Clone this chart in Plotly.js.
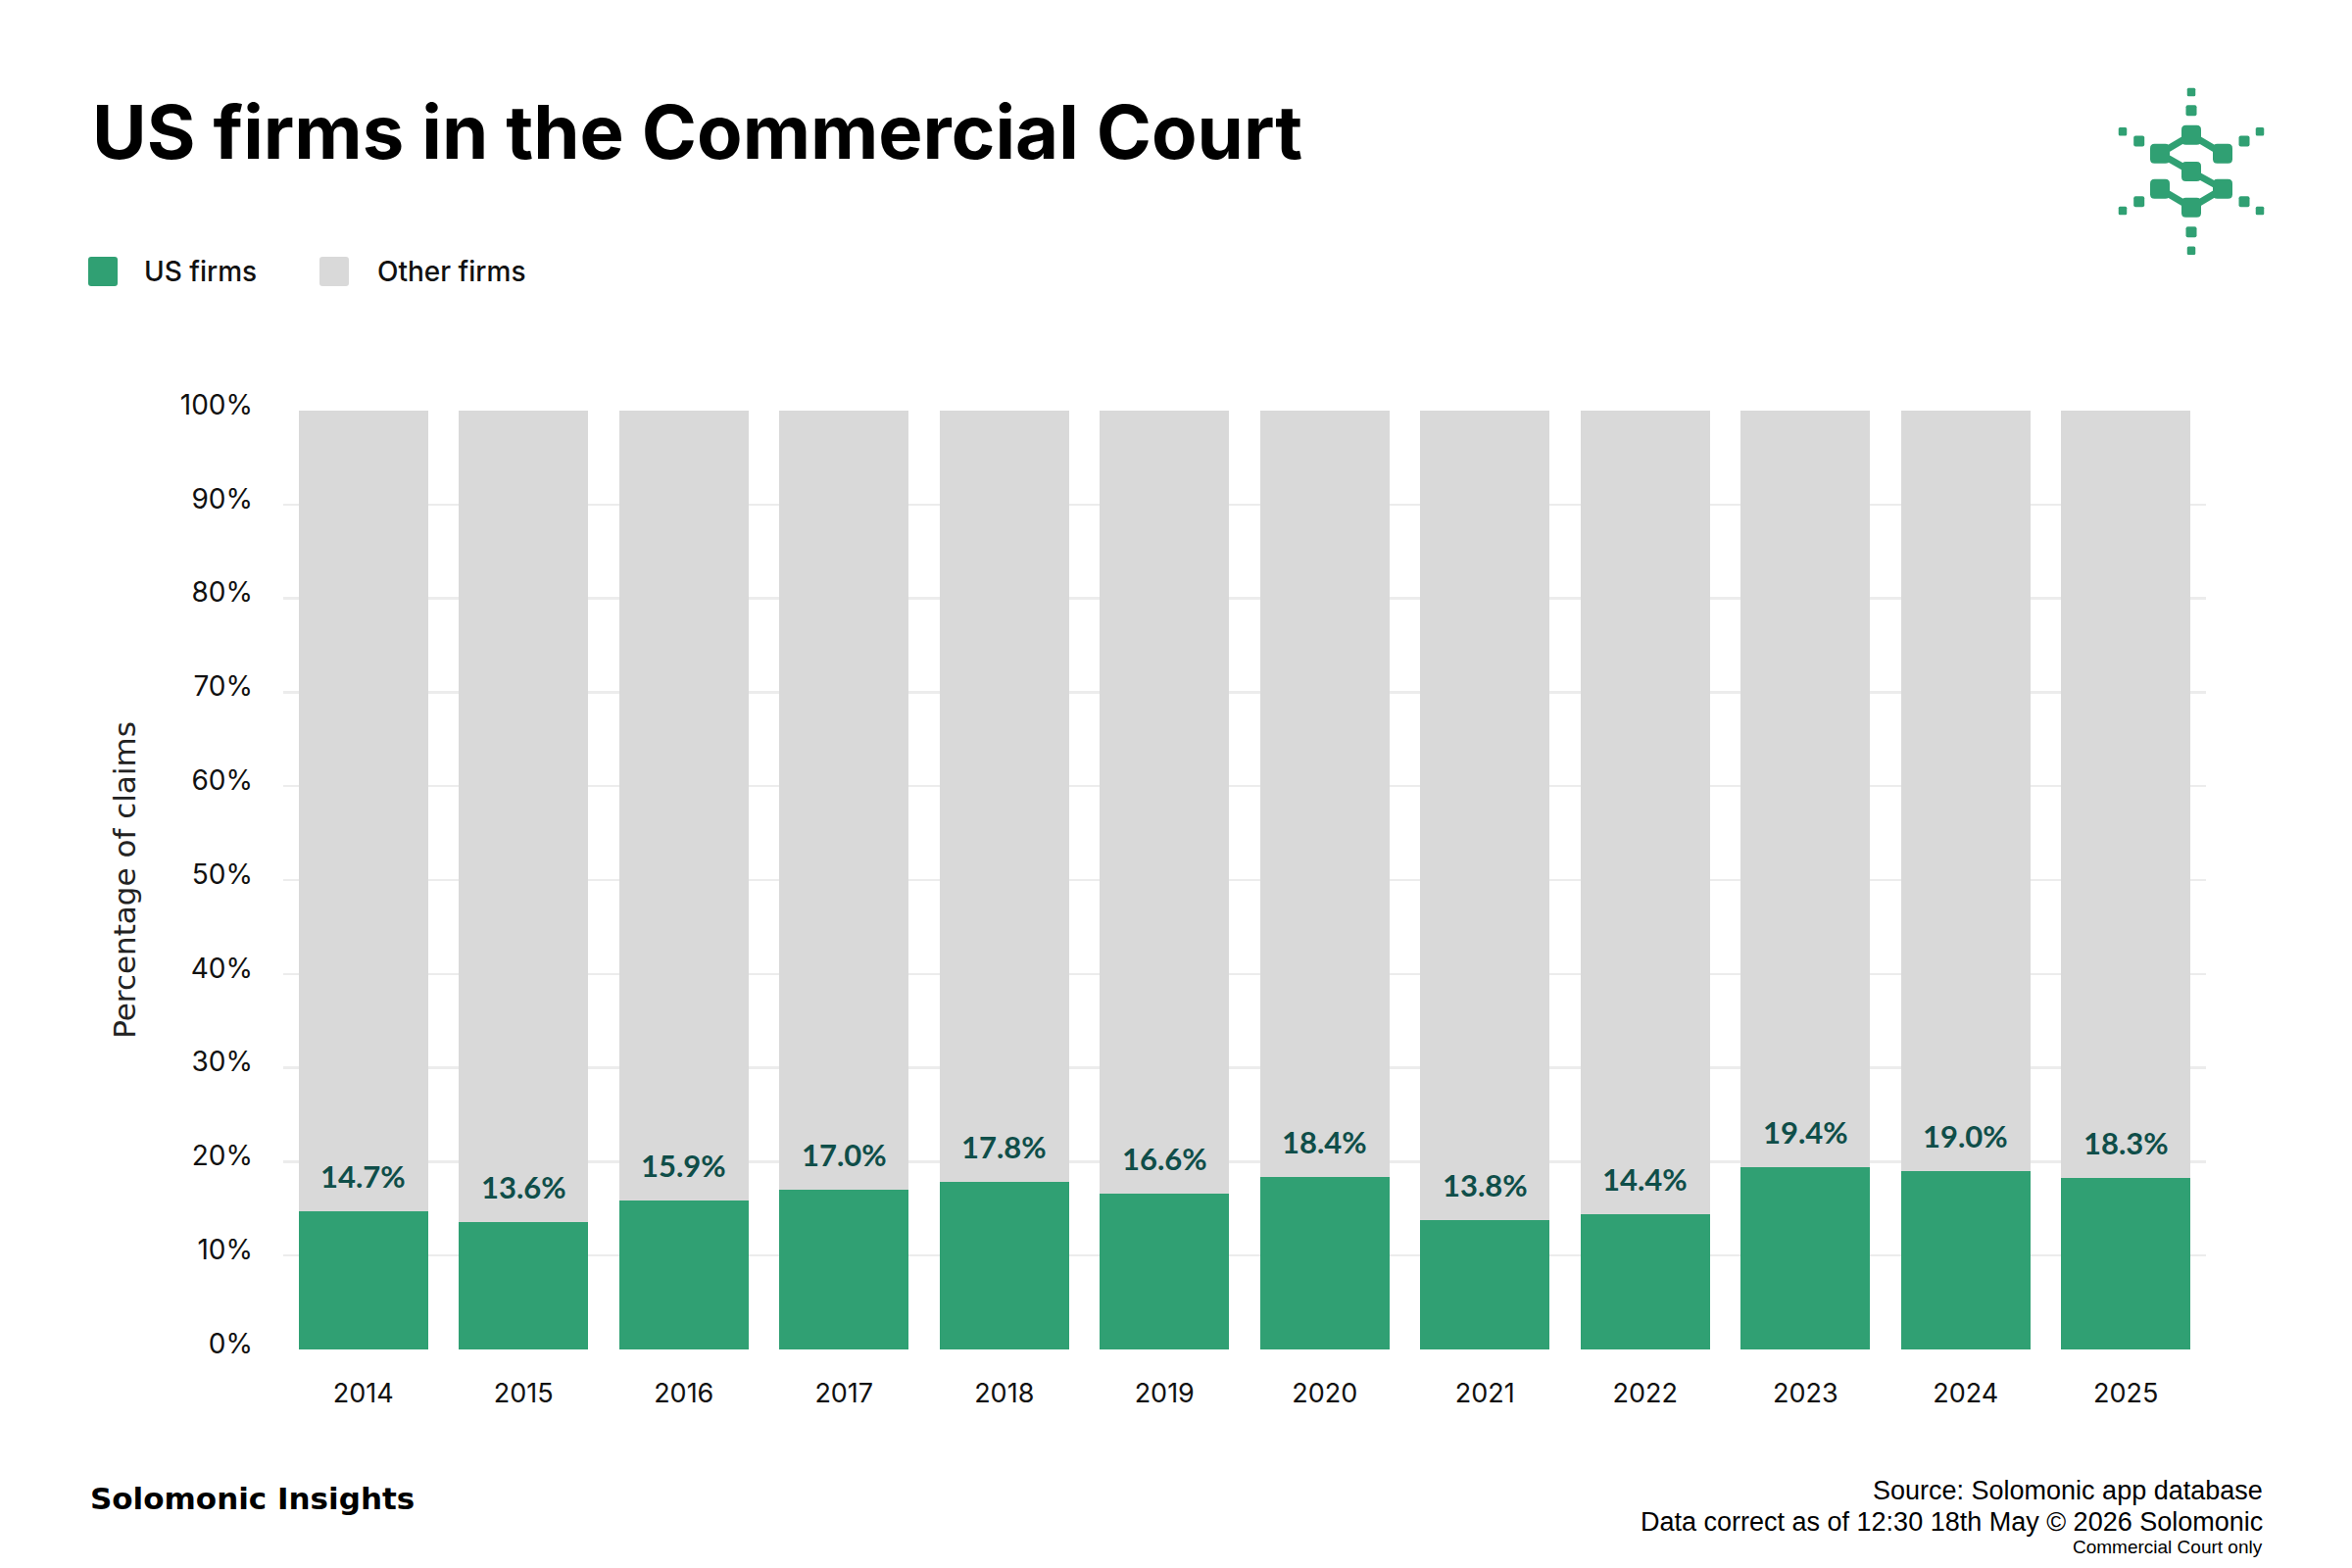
<!DOCTYPE html>
<html>
<head>
<meta charset="utf-8">
<script src="https://cdn.plot.ly/plotly-3.0.1.min.js"></script>
<style>
html,body{margin:0;padding:0;background:#ffffff;}
#chart{width:2400px;height:1600px;}
</style>
</head>
<body>
<div id="chart"></div>
<script>
// ---------- data ----------
const years = ['2014','2015','2016','2017','2018','2019','2020','2021','2022','2023','2024','2025'];
const usFirms = [14.7, 13.6, 15.9, 17.0, 17.8, 16.6, 18.4, 13.8, 14.4, 19.4, 19.0, 18.3];
const otherFirms = [85.3, 86.4, 84.1, 83.0, 82.2, 83.4, 81.6, 86.2, 85.6, 80.6, 81.0, 81.7];
const seriesNames = ['US firms', 'Other firms'];
const yTickVals = [0, 10, 20, 30, 40, 50, 60, 70, 80, 90, 100];
const yTickText = ['0%', '10%', '20%', '30%', '40%', '50%', '60%', '70%', '80%', '90%', '100%'];
const titleText = 'US firms in the Commercial Court';
const yTitleText = 'Percentage of claims';
const brandText = 'Solomonic Insights';
const sourceLines = ['Source: Solomonic app database', 'Data correct as of 12:30 18th May \u00a9 2026 Solomonic', 'Commercial Court only'];

// ---------- style ----------
const GREEN = '#30a073';
const GREY = '#d9d9d9';
const LABEL = '#0f4e49';
const W = 2400, H = 1600;
const M = {l: 289, r: 149, t: 419, b: 223};
const PW = W - M.l - M.r, PH = H - M.t - M.b;
const px = v => (v - M.l) / PW;          // page px -> paper x
const py = v => (H - M.b - v) / PH;      // page px -> paper y

function roundRect(cx, cy, w, h, r, color) {
  const x0 = cx - w / 2, x1 = cx + w / 2, y0 = cy - h / 2, y1 = cy + h / 2;
  const X = px, Y = py;
  const p = 'M' + X(x0 + r) + ',' + Y(y0) +
    ' L' + X(x1 - r) + ',' + Y(y0) + ' Q' + X(x1) + ',' + Y(y0) + ' ' + X(x1) + ',' + Y(y0 + r) +
    ' L' + X(x1) + ',' + Y(y1 - r) + ' Q' + X(x1) + ',' + Y(y1) + ' ' + X(x1 - r) + ',' + Y(y1) +
    ' L' + X(x0 + r) + ',' + Y(y1) + ' Q' + X(x0) + ',' + Y(y1) + ' ' + X(x0) + ',' + Y(y1 - r) +
    ' L' + X(x0) + ',' + Y(y0 + r) + ' Q' + X(x0) + ',' + Y(y0) + ' ' + X(x0 + r) + ',' + Y(y0) + ' Z';
  return {type: 'path', xref: 'paper', yref: 'paper', path: p, fillcolor: color, line: {width: 0}, layer: 'above'};
}
function seg(a, b, color, w) {
  return {type: 'line', xref: 'paper', yref: 'paper', x0: px(a[0]), y0: py(a[1]), x1: px(b[0]), y1: py(b[1]),
    line: {color: color, width: w}, layer: 'above'};
}

// ---------- traces ----------
const traces = [
  {type: 'bar', x: years, y: usFirms, name: seriesNames[0], marker: {color: GREEN}, hoverinfo: 'skip'},
  {type: 'bar', x: years, y: otherFirms, name: seriesNames[1], marker: {color: GREY}, hoverinfo: 'skip'}
];

// ---------- annotations ----------
const annotations = [];
years.forEach((yr, i) => {
  // x given as the category index on the category axis
  annotations.push({x: i, y: usFirms[i], xref: 'x', yref: 'y', text: usFirms[i].toFixed(1) + '%',
    showarrow: false, yanchor: 'bottom', xanchor: 'center', yshift: 15,
    font: {family: 'Lato', size: 31, weight: 700, color: LABEL}});
});
// legend labels
annotations.push({xref: 'paper', yref: 'paper', x: px(145), y: py(277), text: seriesNames[0], showarrow: false,
  xanchor: 'left', yanchor: 'middle', font: {family: 'Inter', size: 28, weight: 500, color: '#111'}});
annotations.push({xref: 'paper', yref: 'paper', x: px(383), y: py(277), text: seriesNames[1], showarrow: false,
  xanchor: 'left', yanchor: 'middle', font: {family: 'Inter', size: 28, weight: 500, color: '#111'}});
// footer
annotations.push({xref: 'paper', yref: 'paper', x: px(90), y: py(1529), text: brandText, showarrow: false,
  xanchor: 'left', yanchor: 'middle', font: {family: 'DejaVu Sans', size: 31, weight: 700, color: '#000'}});
annotations.push({xref: 'paper', yref: 'paper', x: px(2311), y: py(1521), text: sourceLines[0], showarrow: false,
  xanchor: 'right', yanchor: 'middle', font: {family: 'Liberation Sans', size: 27, color: '#000'}});
annotations.push({xref: 'paper', yref: 'paper', x: px(2311), y: py(1553), text: sourceLines[1], showarrow: false,
  xanchor: 'right', yanchor: 'middle', font: {family: 'Liberation Sans', size: 27, color: '#000'}});
annotations.push({xref: 'paper', yref: 'paper', x: px(2311), y: py(1578), text: sourceLines[2], showarrow: false,
  xanchor: 'right', yanchor: 'middle', font: {family: 'Liberation Sans', size: 19, color: '#000'}});

// ---------- shapes: legend swatches + logo ----------
const shapes = [];
shapes.push(roundRect(105, 277, 30, 30, 3, GREEN));
shapes.push(roundRect(341, 277, 30, 30, 3, GREY));

const nTop = [2236, 137.7], nUL = [2204, 156.7], nUR = [2268, 156.7], nC = [2236, 175],
      nLL = [2204, 192.7], nLR = [2268, 192.7], nB = [2236, 211.7];
[[nTop, nUL], [nTop, nUR], [nUL, nC], [nC, nLR], [nLL, nB], [nB, nLR]].forEach(p => shapes.push(seg(p[0], p[1], GREEN, 7)));
[nTop, nUL, nUR, nC, nLL, nLR, nB].forEach(n => shapes.push(roundRect(n[0], n[1], 20, 20, 4.5, GREEN)));
const dotsNear = [[2236, 112.7], [2236, 236.7], [2182.7, 144], [2290, 144], [2182.7, 205.7], [2290, 205.7]];
const dotsFar = [[2236, 94], [2236, 255.7], [2166, 134.3], [2306, 134.3], [2166, 215], [2306, 215]];
dotsNear.forEach(d => shapes.push(roundRect(d[0], d[1], 11, 11, 2, GREEN)));
dotsFar.forEach(d => shapes.push(roundRect(d[0], d[1], 8.5, 8.5, 1.5, GREEN)));

// ---------- layout ----------
const layout = {
  width: W, height: H,
  margin: {l: M.l, r: M.r, t: M.t, b: M.b, pad: 0},
  paper_bgcolor: '#ffffff', plot_bgcolor: '#ffffff',
  barmode: 'stack', bargap: 0.19,
  showlegend: false,
  title: {text: titleText, xref: 'container', yref: 'container', x: 94 / W, xanchor: 'left',
    y: 1 - 135 / H, yanchor: 'middle', font: {family: 'Inter', size: 76, weight: 700, color: '#000'}},
  xaxis: {type: 'category', categoryorder: 'array', categoryarray: years, range: [-0.5, years.length - 0.5],
    autorange: false, showgrid: false, zeroline: false, showline: false, ticks: '',
    ticklabelstandoff: 26, tickfont: {family: 'Inter', size: 27, color: '#111'}, fixedrange: true},
  yaxis: {range: [0, 100], autorange: false, tickmode: 'array', tickvals: yTickVals, ticktext: yTickText,
    showgrid: true, gridcolor: '#ececec', gridwidth: 2.5, zeroline: false, showline: false, ticks: '',
    ticklabelstandoff: 30, ticklabelshift: -6, tickfont: {family: 'Inter', size: 28, color: '#111'}, fixedrange: true,
    title: {text: yTitleText, standoff: 35, font: {family: 'DejaVu Sans', size: 31, color: '#222'}}},
  annotations: annotations,
  shapes: shapes
};

Plotly.newPlot('chart', traces, layout, {staticPlot: true, displayModeBar: false});
</script>
</body>
</html>
